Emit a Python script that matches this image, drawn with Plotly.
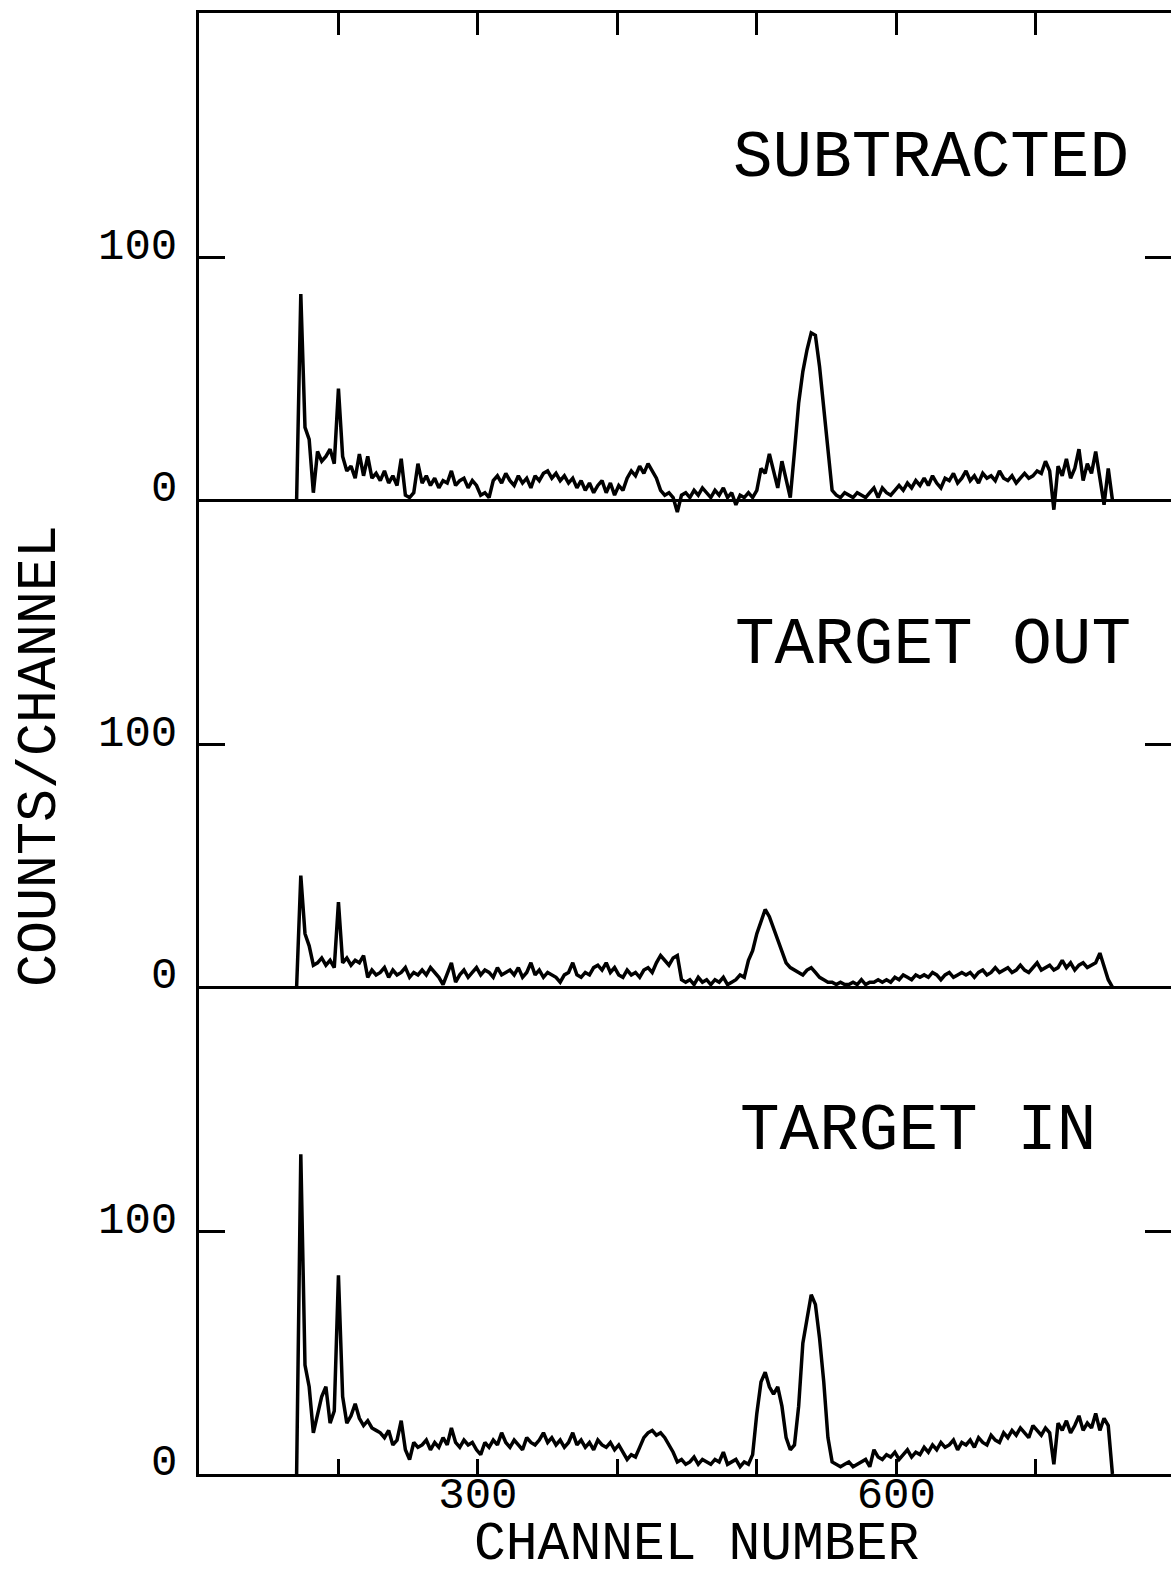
import plotly.graph_objects as go

# Channel grid (every 3 channels, 170 .. 755)
channels = list(range(170, 756, 3))

subtracted = [
    0, 85, 30, 25, 3, 20, 16, 18, 21, 15,
    46, 18, 12, 14, 9, 19, 10, 18, 9, 11,
    8, 12, 7, 10, 6, 17, 2, 1, 3, 15,
    7, 10, 6, 9, 5, 8, 7, 12, 6, 8,
    9, 5, 8, 6, 2, 3, 1, 8, 10, 7,
    11, 8, 6, 10, 7, 9, 5, 10, 8, 11,
    12, 9, 11, 8, 10, 7, 9, 5, 8, 4,
    7, 3, 6, 8, 3, 7, 2, 6, 4, 9,
    12, 10, 14, 11, 15, 12, 9, 4, 2, 3,
    1, -5, 2, 3, 1, 4, 2, 5, 3, 1,
    4, 2, 5, 1, 3, -2, 2, 1, 3, 1,
    4, 13, 11, 19, 12, 5, 16, 9, 1, 20,
    40, 53, 62, 69, 68, 55, 38, 18, 4, 2,
    1, 3, 2, 1, 3, 2, 1, 3, 5, 1,
    5, 3, 2, 4, 6, 4, 7, 5, 8, 6,
    9, 6, 10, 7, 5, 9, 8, 11, 7, 9,
    12, 8, 10, 7, 11, 9, 10, 8, 12, 9,
    8, 10, 7, 9, 11, 9, 10, 12, 11, 16,
    12, -4, 14, 10, 17, 9, 13, 21, 8, 15,
    11, 20, 9, -2, 13, 0,
]

target_out = [
    0, 46, 22, 17, 9, 10, 12, 9, 11, 8,
    35, 10, 12, 9, 11, 10, 13, 4, 7, 5,
    6, 8, 4, 7, 5, 6, 8, 4, 6, 5,
    7, 5, 8, 6, 4, 1, 6, 10, 2, 5,
    7, 4, 6, 8, 5, 7, 6, 4, 8, 5,
    6, 7, 5, 8, 4, 6, 10, 5, 7, 4,
    6, 5, 4, 2, 5, 6, 10, 5, 4, 6,
    5, 8, 9, 7, 10, 6, 8, 5, 4, 7,
    5, 6, 4, 7, 8, 6, 10, 13, 11, 9,
    12, 13, 3, 2, 3, 1, 4, 2, 3, 1,
    3, 2, 4, 1, 2, 3, 5, 4, 11, 15,
    22, 27, 32, 29, 24, 20, 14, 10, 8, 7,
    6, 5, 7, 8, 6, 4, 3, 2, 2, 1,
    2, 1, 1, 2, 1, 3, 1, 2, 2, 3,
    2, 3, 2, 4, 3, 5, 4, 3, 5, 4,
    5, 4, 6, 5, 3, 5, 6, 4, 5, 6,
    5, 6, 4, 6, 7, 5, 6, 8, 6, 7,
    8, 6, 7, 9, 7, 6, 8, 10, 7, 8,
    9, 7, 8, 11, 8, 10, 7, 9, 10, 8,
    9, 10, 14, 9, 3, 0,
]

target_in = [
    0, 132, 45, 36, 17, 25, 32, 36, 21, 26,
    82, 32, 21, 24, 29, 23, 20, 22, 19, 18,
    17, 15, 18, 12, 14, 22, 10, 6, 13, 11,
    12, 14, 10, 13, 11, 15, 12, 19, 13, 11,
    14, 12, 13, 10, 8, 13, 11, 14, 12, 17,
    13, 11, 14, 12, 10, 15, 13, 12, 14, 17,
    13, 15, 12, 14, 11, 13, 17, 12, 14, 11,
    13, 10, 14, 12, 11, 13, 10, 12, 9, 6,
    8, 7, 11, 15, 17, 18, 16, 17, 15, 12,
    9, 5, 6, 4, 5, 7, 4, 6, 5, 4,
    6, 5, 9, 4, 5, 6, 3, 5, 4, 8,
    25, 38, 42, 36, 33, 36, 28, 15, 10, 12,
    28, 54, 64, 74, 70, 56, 38, 15, 5, 4,
    3, 4, 5, 3, 4, 5, 6, 3, 10, 7,
    6, 8, 7, 9, 6, 8, 10, 7, 9, 8,
    11, 9, 12, 10, 13, 11, 12, 14, 10, 13,
    12, 14, 11, 15, 13, 12, 16, 14, 13, 17,
    15, 18, 16, 19, 17, 15, 20, 18, 16, 19,
    17, 4, 21, 18, 22, 17, 20, 24, 18, 21,
    19, 25, 18, 23, 20, 0,
]

panel_labels = ["SUBTRACTED", "TARGET OUT", "TARGET IN"]
x_tick_vals = [200, 300, 400, 500, 600, 700]
x_tick_text = ["", "300", "", "", "600", ""]
y_tick_vals = [0, 100]
y_tick_text = ["0", "100"]
x_range = [100, 797]
y_top = 201
y_neg = 8

W, H = 1171, 1578
ML, MR, MT, MB = 199, 0, 13, 104
PH = H - MT - MB
FONT = "Liberation Mono"
LW = 3

ppc = (PH / 3) / y_top
top_dom_bottom = 2 / 3 - (y_neg * ppc) / PH

fig = go.Figure()
line = dict(color="black", width=3.5, shape="linear")
fig.add_trace(go.Scatter(x=channels, y=subtracted, mode="lines", line=line, xaxis="x2", yaxis="y", showlegend=False))
fig.add_trace(go.Scatter(x=channels, y=target_out, mode="lines", line=line, xaxis="x3", yaxis="y2", showlegend=False))
fig.add_trace(go.Scatter(x=channels, y=target_in, mode="lines", line=line, xaxis="x", yaxis="y3", showlegend=False))
# helper traces for right-hand tick axes
for ya, xa in (("y4", "x2"), ("y5", "x3"), ("y6", "x")):
    fig.add_trace(go.Scatter(x=[None], y=[None], mode="lines", xaxis=xa, yaxis=ya, showlegend=False, hoverinfo="skip"))

common_y = dict(showgrid=False, color="black", linecolor="black", tickcolor="black")

fig.update_layout(
    width=W, height=H,
    margin=dict(l=ML, r=MR, t=MT, b=MB, pad=0),
    paper_bgcolor="white", plot_bgcolor="rgba(0,0,0,0)",
    font=dict(family=FONT, color="black"),
    xaxis=dict(anchor="y3", domain=[0, 1], range=x_range, showline=True, linewidth=LW, linecolor="black",
               ticks="inside", ticklen=15, tickwidth=2.5, tickcolor="black", ticklabelstandoff=-22,
               tickvals=x_tick_vals, ticktext=x_tick_text, tickfont=dict(family=FONT, size=44, color="black"),
               showgrid=False, zeroline=False),
    xaxis2=dict(anchor="y", matches="x", range=x_range, side="top", showline=True, linewidth=LW, linecolor="black",
                ticks="inside", ticklen=22, tickwidth=2.5, tickcolor="black", tickvals=x_tick_vals,
                showticklabels=False, showgrid=False, zeroline=False),
    xaxis3=dict(anchor="y2", matches="x", range=x_range, visible=False),
    yaxis=dict(domain=[top_dom_bottom, 1], range=[-y_neg, y_top], anchor="x2", showline=True, linewidth=LW,
               ticks="inside", ticklen=26, tickwidth=2.5, tickvals=y_tick_vals, showticklabels=False,
               zeroline=True, zerolinecolor="black", zerolinewidth=LW, **common_y),
    yaxis2=dict(domain=[1 / 3, 2 / 3], range=[0, y_top], anchor="x3", showline=True, linewidth=LW,
                ticks="inside", ticklen=26, tickwidth=2.5, tickvals=y_tick_vals, showticklabels=False,
                zeroline=True, zerolinecolor="black", zerolinewidth=LW, **common_y),
    yaxis3=dict(domain=[0, 1 / 3], range=[0, y_top], anchor="x", showline=True, linewidth=LW,
                ticks="inside", ticklen=26, tickwidth=2.5, tickvals=y_tick_vals, showticklabels=False,
                zeroline=True, zerolinecolor="black", zerolinewidth=LW, **common_y),
    yaxis4=dict(overlaying="y", side="right", anchor="x2", range=[-y_neg, y_top], ticks="inside", ticklen=26,
                tickwidth=2.5, tickvals=[100], showticklabels=False, showline=False, zeroline=False, **common_y),
    yaxis5=dict(overlaying="y2", side="right", anchor="x3", range=[0, y_top], ticks="inside", ticklen=26,
                tickwidth=2.5, tickvals=[100], showticklabels=False, showline=False, zeroline=False, **common_y),
    yaxis6=dict(overlaying="y3", side="right", anchor="x", range=[0, y_top], ticks="inside", ticklen=26,
                tickwidth=2.5, tickvals=[100], showticklabels=False, showline=False, zeroline=False, **common_y),
)

def px_x(p):
    return (p - ML) / (W - ML - MR)

def px_y(p):
    return (H - MB - p) / PH

ann = []
for yref in ("y", "y2", "y3"):
    for v, t in zip(y_tick_vals, y_tick_text):
        ann.append(dict(text=t, xref="paper", x=0, xanchor="right", xshift=-20, yref=yref, y=v,
                        yanchor="bottom", yshift=-16, showarrow=False,
                        font=dict(family=FONT, size=44, color="black")))

label_pos = [(731, 158), (733, 645), (738, 1131)]
for txt, (lx, ly) in zip(panel_labels, label_pos):
    ann.append(dict(text=txt, xref="paper", x=px_x(lx), xanchor="left", yref="paper", y=px_y(ly),
                    yanchor="middle", showarrow=False, font=dict(family=FONT, size=66, color="black")))

ann.append(dict(text="COUNTS/CHANNEL", xref="paper", x=px_x(40), xanchor="center", yref="paper", y=px_y(756),
                yanchor="middle", textangle=-90, showarrow=False, font=dict(family=FONT, size=55, color="black")))
ann.append(dict(text="CHANNEL NUMBER", xref="paper", x=px_x(696), xanchor="center", yref="paper", y=px_y(1577),
                yanchor="bottom", showarrow=False, font=dict(family=FONT, size=53, color="black")))

fig.update_layout(annotations=ann)
fig.write_html("out.html")
